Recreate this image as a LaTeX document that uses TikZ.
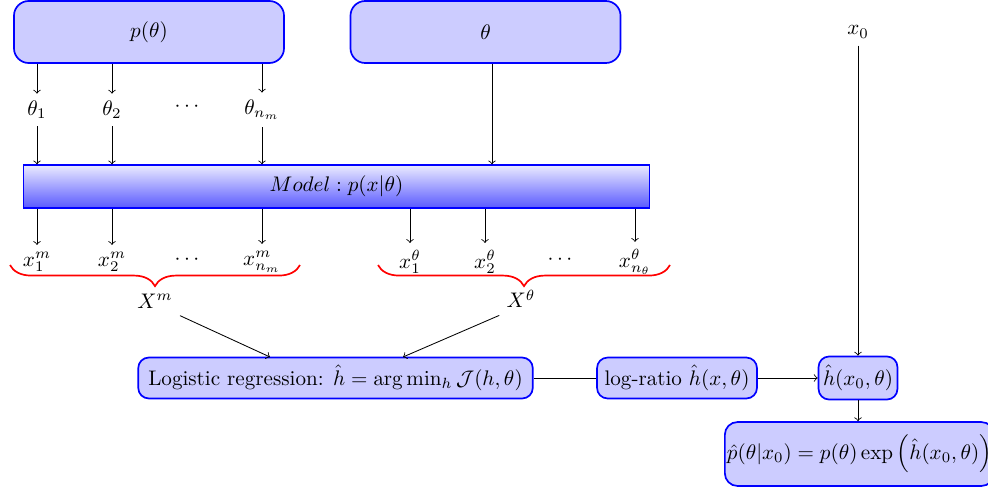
\documentclass[tikz,border=0pt]{standalone}
\usetikzlibrary{decorations.pathreplacing}
\begin{document}
\begin{tikzpicture}[x=0.474pt,y=-0.474pt,
  box/.style={draw=blue,fill=blue!20,line width=0.8pt,rounded corners=5pt,inner xsep=2pt},
  model/.style={draw=blue,top color=blue!8,bottom color=blue!65,line width=0.6pt,minimum width=297pt,minimum height=20.4pt},
  arr/.style={->,black,line width=0.4pt},
  rbrace/.style={red,line width=0.8pt,decorate,decoration={brace,mirror,amplitude=10pt}}]
\useasboundingbox (0,0) rectangle (988,489);
% top row
\node[box,rounded corners=7pt,minimum width=128pt,minimum height=29.4pt] (prior) at (149,32) {$p(\theta)$};
\node[box,rounded corners=7pt,minimum width=128pt,minimum height=29.4pt] (theta) at (485.5,32) {$\theta$};
\node (x0) at (858,32) {$x_0$};
% theta samples
\node (t1) at (37,110) {$\theta_1$};
\node (t2) at (112,110) {$\theta_2$};
\node (td) at (187,107) {$\cdots$};
\node (tn) at (262,110) {$\theta_{n_m}$};
% model
\node[model] (model) at (336.5,186.5) {$Model: p(x|\theta)$};
\coordinate (tx) at (492,0);
\foreach \n in {t1,t2,tn}{
  \draw[arr] (prior.south -| \n) -- (\n);
  \draw[arr] (\n) -- (\n |- model.north);
}
\draw[arr] (theta.south -| tx) -- (model.north -| tx);
% outputs
\node (xm1) at (37,262) {$x^m_1$};
\node (xm2) at (112,262) {$x^m_2$};
\node (xmd) at (187,260) {$\cdots$};
\node (xmn) at (262,262) {$x^m_{n_m}$};
\node (xt1) at (410,262) {$x^\theta_1$};
\node (xt2) at (485,262) {$x^\theta_2$};
\node (xtd) at (560,260) {$\cdots$};
\node (xtn) at (635,262) {$x^\theta_{n_\theta}$};
\foreach \n in {xm1,xm2,xmn,xt1,xt2,xtn}{
  \draw[arr] (model.south -| \n) -- (\n);
}
% braces
\draw[rbrace] (10,265) -- (300,265);
\draw[rbrace] (378,265) -- (670,265);
\node (Xm) at (155,301) {$X^m$};
\node (Xt) at (521,299) {$X^\theta$};
% lower row
\node[box,minimum width=187pt,minimum height=19.4pt] (logit) at (335.5,378) {Logistic regression: $\hat h = \arg\min_h \mathcal{J}(h,\theta)$};
\node[box,minimum width=75.8pt,minimum height=19.4pt] (lr) at (677,378) {log-ratio $\hat h(x,\theta)$};
\node[box,minimum width=37.4pt,minimum height=20.4pt] (hx0) at (858,378) {$\hat h(x_0,\theta)$};
\node[box,rounded corners=6pt,anchor=west,inner xsep=1pt,minimum height=30.3pt] (post) at (724,454) {$\hat p(\theta|x_0) = p(\theta)\exp\left(\hat h(x_0,\theta)\right)$};
\coordinate (la) at (270,357);
\coordinate (lb) at (403,357);
\draw[arr] (Xm.south east) -- (la);
\draw[arr] (Xt.south west) -- (lb);
\draw (logit) -- (lr);
\draw[arr] (lr) -- (hx0);
\draw[arr] (x0) -- (hx0);
\draw[arr] (hx0) -- (hx0 |- post.north);
\end{tikzpicture}
\end{document}
